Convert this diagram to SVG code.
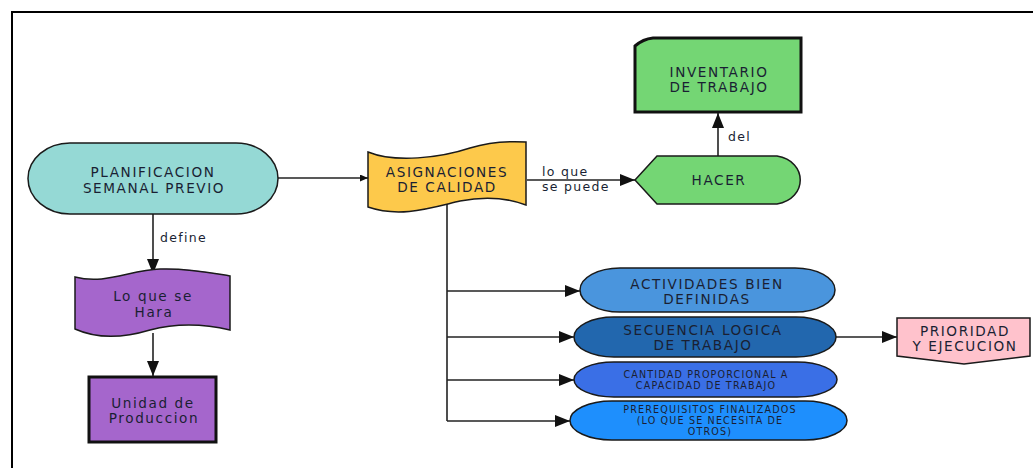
<svg xmlns="http://www.w3.org/2000/svg" width="1033" height="468" viewBox="0 0 1033 468">
  <style>
    .lbl { font-family: "DejaVu Sans", Verdana, sans-serif; font-size: 13.6px; letter-spacing: 1.6px; fill: #1a1f33; text-anchor: middle; }
    .sm { font-family: "DejaVu Sans", Verdana, sans-serif; font-size: 9.6px; letter-spacing: 1.15px; fill: #1a1f33; text-anchor: middle; }
    .edge { font-family: "DejaVu Sans", Verdana, sans-serif; font-size: 12.5px; letter-spacing: 1.3px; fill: #1a1f33; }
    .shape { stroke: #1a1a1a; stroke-width: 1.5; }
    .box { stroke: #111; stroke-width: 3; }
    .conn { fill: none; stroke: #222; stroke-width: 1.6; }
  </style>
  <defs>
    <marker id="arrow" markerUnits="userSpaceOnUse" markerWidth="15" markerHeight="12" viewBox="0 0 15 12" refX="15" refY="6" orient="auto">
      <path d="M0,0 L15,6 L0,12 Z" fill="#111"/>
    </marker>
    <marker id="arrowSmall" markerUnits="userSpaceOnUse" markerWidth="8" markerHeight="7" viewBox="0 0 8 7" refX="8" refY="3.5" orient="auto">
      <path d="M0,0 L8,3.5 L0,7 Z" fill="#111"/>
    </marker>
  </defs>

  <rect width="1033" height="468" fill="#ffffff"/>
  <!-- page frame -->
  <rect x="12" y="12" width="1040" height="480" fill="none" stroke="#000" stroke-width="2"/>

  <!-- connectors -->
  <g id="connectors">
    <path class="conn" d="M278,178 L368,178" marker-end="url(#arrowSmall)"/>
    <path class="conn" d="M527,180 L635,180" marker-end="url(#arrow)"/>
    <path class="conn" d="M718,156 L718,113" marker-end="url(#arrow)"/>
    <path class="conn" d="M153,214 L153,274" marker-end="url(#arrow)"/>
    <path class="conn" d="M153,333 L153,376" marker-end="url(#arrow)"/>
    <path class="conn" d="M447,203 L447,421"/>
    <path class="conn" d="M447,291 L580,291" marker-end="url(#arrow)"/>
    <path class="conn" d="M447,337 L574,337" marker-end="url(#arrow)"/>
    <path class="conn" d="M447,380 L574,380" marker-end="url(#arrow)"/>
    <path class="conn" d="M447,421 L570,421" marker-end="url(#arrow)"/>
    <path class="conn" d="M836,337 L897,337" marker-end="url(#arrow)"/>
    <text class="edge" x="160" y="242">define</text>
    <text class="edge" x="542" y="176">lo que</text>
    <text class="edge" x="542" y="191">se puede</text>
    <text class="edge" x="728" y="141">del</text>
  </g>

  <!-- nodes -->
  <g id="planificacion">
    <rect class="shape" x="28" y="143" width="250" height="71" rx="42" ry="35.5" fill="#95d9d5"/>
    <text class="lbl" x="153" y="177">PLANIFICACION</text>
    <text class="lbl" x="154" y="193">SEMANAL PREVIO</text>
  </g>

  <g id="asignaciones">
    <path class="shape" fill="#fdc94b" d="M368,152 C395,163 440,158 470,148 C490,142 510,141 526,142 L526,205 C505,197 485,196 460,201 C430,208 400,218 368,207 Z"/>
    <text class="lbl" x="447" y="177">ASIGNACIONES</text>
    <text class="lbl" x="447" y="192">DE CALIDAD</text>
  </g>

  <g id="hacer">
    <path class="shape" fill="#74d674" d="M635,180 L657,156 L777,156 C808,161 808,199 777,204 L657,204 Z"/>
    <text class="lbl" x="719" y="185">HACER</text>
  </g>

  <g id="inventario">
    <path class="box" fill="#74d674" d="M635,46 Q643,39 653,38 L801,38 L801,112 L635,112 Z"/>
    <text class="lbl" x="719" y="77">INVENTARIO</text>
    <text class="lbl" x="719" y="92">DE TRABAJO</text>
  </g>

  <g id="lo-que-se-hara">
    <path class="shape" fill="#a566cc" d="M75,277 C105,285 130,270 160,269 C190,268 212,273 230,276 L230,330 C205,324 180,322 150,330 C120,339 95,338 75,329 Z"/>
    <text class="lbl" x="153" y="301">Lo que se</text>
    <text class="lbl" x="154" y="317">Hara</text>
  </g>

  <g id="unidad-produccion">
    <rect class="box" x="89" y="377" width="127" height="65" fill="#a566cc"/>
    <text class="lbl" x="153" y="408">Unidad de</text>
    <text class="lbl" x="154" y="423">Produccion</text>
  </g>

  <g id="actividades">
    <rect class="shape" x="580" y="268" width="255" height="44" rx="40" ry="22" fill="#4a95dd"/>
    <text class="lbl" x="707" y="289">ACTIVIDADES BIEN</text>
    <text class="lbl" x="707" y="304">DEFINIDAS</text>
  </g>

  <g id="secuencia">
    <rect class="shape" x="574" y="317" width="262" height="40" rx="40" ry="20" fill="#2267ae"/>
    <text class="lbl" x="703" y="335">SECUENCIA LOGICA</text>
    <text class="lbl" x="703" y="350">DE TRABAJO</text>
  </g>

  <g id="cantidad">
    <rect class="shape" x="574" y="362" width="263" height="35" rx="40" ry="17.5" fill="#3a6fe6"/>
    <text class="sm" x="706" y="378">CANTIDAD PROPORCIONAL A</text>
    <text class="sm" x="706" y="389">CAPACIDAD DE TRABAJO</text>
  </g>

  <g id="prerequisitos">
    <rect class="shape" x="570" y="401" width="277" height="39" rx="42" ry="19.5" fill="#1e8ffd"/>
    <text class="sm" x="710" y="413">PREREQUISITOS FINALIZADOS</text>
    <text class="sm" x="710" y="424">(LO QUE SE NECESITA DE</text>
    <text class="sm" x="710" y="435">OTROS)</text>
  </g>

  <g id="prioridad">
    <path class="shape" fill="#ffc2cc" d="M897,318 L1030,318 L1030,356 L964,364 L897,356 Z"/>
    <text class="lbl" x="965" y="336">PRIORIDAD</text>
    <text class="lbl" x="965" y="351">Y EJECUCION</text>
  </g>
</svg>
